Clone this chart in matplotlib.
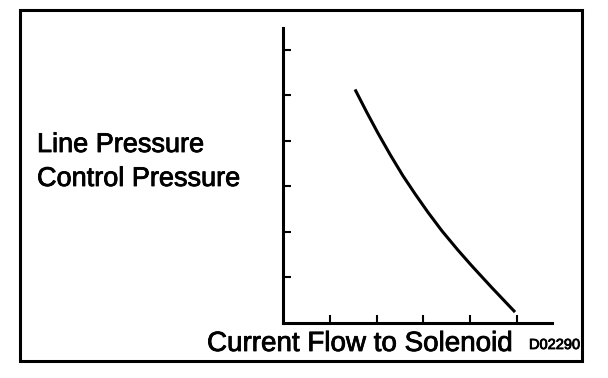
import numpy as np
import matplotlib
matplotlib.use("Agg")
import matplotlib.pyplot as plt
import matplotlib.patheffects as pe
from matplotlib.patches import Rectangle

plt.rcParams['font.family'] = ['Liberation Sans', 'DejaVu Sans']

# --- curve (x = current, y = pressure, in tick units) ---
current = [1.54, 1.79, 2.03, 2.29, 2.56, 2.82, 3.10, 3.40, 3.74, 4.04, 4.47, 4.96]
pressure = [5.13, 4.63, 4.17, 3.70, 3.24, 2.84, 2.43, 2.02, 1.60, 1.25, 0.77, 0.24]

x_ticks = [1, 2, 3, 4, 5]
y_ticks = [1, 2, 3, 4, 5, 6]

W, H = 608, 378
fig = plt.figure(figsize=(W / 100, H / 100), dpi=100)

# outer frame
fig.patches.append(Rectangle((20 / W, (H - 361) / H), 562 / W, 351 / H,
                             transform=fig.transFigure, fill=False,
                             lw=2.2, ec='black'))

# --- axes placed by pixel ---
ax = fig.add_axes([283 / W, (H - 323) / H, (552 - 283) / W, (323 - 28) / H])
ax.plot(current, pressure, color='black', lw=2.2, solid_capstyle='butt',
        solid_joinstyle='round')

ax.set_xlim(0, 5.75)
ax.set_ylim(0, 6.48)
ax.set_xticks(x_ticks)
ax.set_yticks(y_ticks)
ax.tick_params(direction='in', length=6, width=1.5, labelbottom=False, labelleft=False)
for s in ['top', 'right']:
    ax.spines[s].set_visible(False)
for s in ['left', 'bottom']:
    ax.spines[s].set_linewidth(2.2)

# texts (slight stroke to mimic the heavy print)
heavy = [pe.withStroke(linewidth=0.6, foreground='black')]
fig.text(37 / W, (H - 152) / H, "Line Pressure", fontsize=19.5, ha='left',
         va='baseline', path_effects=heavy)
fig.text(37 / W, (H - 186) / H, "Control Pressure", fontsize=19.5, ha='left',
         va='baseline', path_effects=heavy)
fig.text(207 / W, (H - 351) / H, "Current Flow to Solenoid", fontsize=20, ha='left',
         va='baseline', path_effects=heavy)
fig.text(529 / W, (H - 349) / H, "D02290", fontsize=10.5, ha='left',
         va='baseline', path_effects=heavy)

fig.savefig("out.png", dpi=100)
